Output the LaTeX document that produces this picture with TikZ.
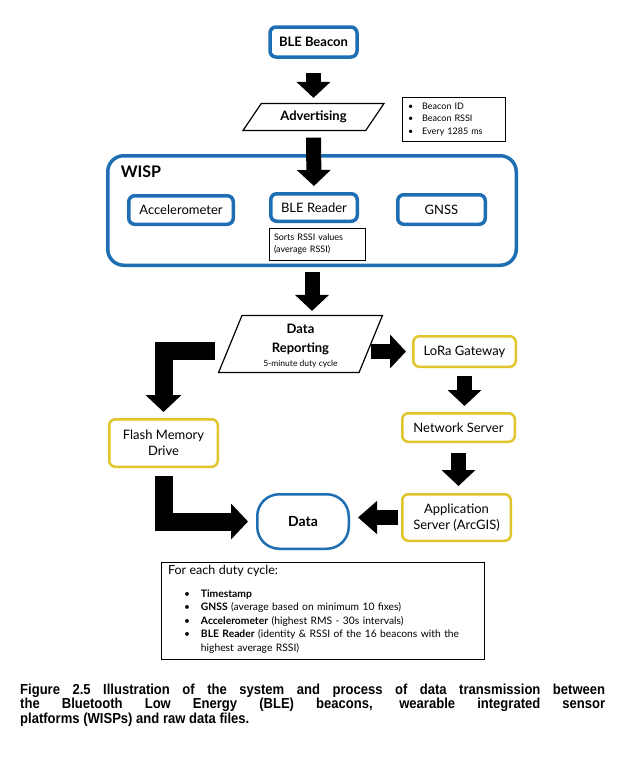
\documentclass[tikz,border=0pt]{standalone}
\usepackage{fontspec}
\setmainfont{Lato}
\newfontfamily\capfont[FakeStretch=0.9]{Liberation Sans}
\usepackage{tikz}
\usetikzlibrary{arrows.meta}
\usetikzlibrary{shapes.geometric}

\definecolor{bleblue}{RGB}{30,110,180}
\definecolor{gwyellow}{RGB}{224,198,44}
\newcommand{\boxfont}{\fontsize{13pt}{16pt}\selectfont}
\newcommand{\notefont}{\fontsize{9pt}{12.5pt}\selectfont}
\tikzset{
  bluebox/.style={draw=bleblue, line width=3.5pt, rounded corners=6pt, inner sep=2pt, align=center, font=\boxfont},
  yellowbox/.style={draw=gwyellow, line width=2.5pt, rounded corners=6pt, inner sep=2pt, align=center, font=\boxfont},
  notebox/.style={draw, line width=0.8pt, inner xsep=6pt, inner ysep=2pt, align=left, font=\notefont},
  slanted/.style={draw, line width=1.2pt, trapezium, trapezium stretches=true, inner sep=0pt, align=center},
  blockarrow/.style={line width=15pt, -{Triangle[width=33pt,length=16pt]}},
  bigarrow/.style={line width=18pt, -{Triangle[width=35pt,length=17pt]}},
}

\begin{document}
\begin{tikzpicture}[x=1pt,y=-1pt]
    \fill[white] (0,0) rectangle (627,761);
    \useasboundingbox (0,0) rectangle (627,761);
    %% beacon and advertising
    \node[bluebox, minimum width=87pt, minimum height=30pt] (beacon) at (313.5,42) {\bfseries BLE Beacon};
    \node[slanted, trapezium left angle=46, trapezium right angle=134, minimum width=142pt, minimum height=27pt, font=\boxfont\bfseries] (adv) at (313.5,117) {Advertising};
    \node[notebox, text width=91pt, minimum height=44pt] (advnote) at (453.5,119)
      {\begin{tabular}{@{}l@{\hspace{9pt}}l@{}}\textbullet & Beacon ID\\ \textbullet & Beacon RSSI\\ \textbullet & Every 1285 ms\end{tabular}};
    %% WISP
    \node[bluebox, rounded corners=16pt, minimum width=408.5pt, minimum height=109.5pt] (wisp) at (312,210.5) {};
    \node[font=\fontsize{16pt}{18pt}\selectfont\bfseries] (wisplabel) at (141,172) {WISP};
    \node[bluebox, minimum width=104.5pt, minimum height=28.5pt] (accel) at (181,210) {Accelerometer};
    \node[bluebox, minimum width=86.5pt, minimum height=27.5pt] (reader) at (314,207.5) {BLE Reader};
    \node[bluebox, minimum width=87.5pt, minimum height=29.5pt] (gnss) at (441.5,209.5) {GNSS};
    \node[notebox, inner xsep=5pt, text width=86pt, minimum height=32pt] (sorts) at (317,244) {Sorts RSSI values\\(average RSSI)};
    %% reporting
    \node[slanted, trapezium left angle=60, trapezium right angle=120, minimum width=164pt, minimum height=57pt] (report) at (300.5,344) {\phantom{Data}};
    \node[align=center, inner sep=0pt, font=\fontsize{13pt}{19pt}\selectfont\bfseries] (reporttext) at (300.5,346.5)
      {Data\\Reporting\\[-5pt]{\fontsize{8.5pt}{10pt}\selectfont\mdseries 5-minute duty cycle}};
    \node[yellowbox, minimum width=102.5pt, minimum height=30.5pt] (lora) at (464.5,351.5) {LoRa Gateway};
    \node[yellowbox, minimum width=112.5pt, minimum height=28.5pt] (netserver) at (458.5,427.5) {Network Server};
    \node[yellowbox, minimum width=108.5pt, minimum height=46.5pt] (appserver) at (456.5,517.5) {Application\\Server (ArcGIS)};
    \node[yellowbox, minimum width=108.5pt, minimum height=47.5pt] (flash) at (163.5,443) {Flash Memory\\Drive};
    \node[draw=bleblue, line width=2.5pt, rounded corners=22pt, minimum width=91.5pt, minimum height=54.5pt, font=\fontsize{14pt}{16pt}\selectfont\bfseries] (data) at (303,521.5) {Data};
    %% duty cycle note
    \node[notebox, inner xsep=7pt, text width=309pt, minimum height=97pt, font=\fontsize{10.3pt}{13.5pt}\selectfont] (dutynote) at (322.5,610.5)
      {{\fontsize{12.5pt}{13.5pt}\selectfont For each duty cycle:}\\[10pt]
       \hspace*{16pt}\begin{tabular}{@{}l@{\hspace{11pt}}l@{}}
         \textbullet & \textbf{Timestamp}\\
         \textbullet & \textbf{GNSS} (average based on minimum 10 fixes)\\
         \textbullet & \textbf{Accelerometer} (highest RMS - 30s intervals)\\
         \textbullet & \textbf{BLE Reader} (identity \& RSSI of the 16 beacons with the\\
                     & highest average RSSI)
       \end{tabular}};
    %% arrows
    \draw[blockarrow, shorten <=14pt, shorten >=5pt] (beacon) -- (adv);
    \draw[blockarrow, shorten <=6.5pt, shorten >=6pt] (adv.south) -- (reader.north);
    \draw[blockarrow, shorten <=5pt, shorten >=4pt] (wisp.south) -- (wisp.south |- report.north);
    \draw[blockarrow, shorten >=6pt] (report.east |- lora.west) -- (lora.west);
    \draw[blockarrow, shorten <=8pt, shorten >=6pt] (lora.south) -- (lora.south |- netserver.north);
    \draw[blockarrow, shorten <=10pt, shorten >=7pt] (netserver.south) -- (netserver.south |- appserver.north);
    \draw[blockarrow, -{Triangle[width=32pt,length=19pt]}, shorten <=3pt, shorten >=8pt] (appserver.west) -- (appserver.west -| data.east);
    \draw[bigarrow, shorten >=6pt] ([xshift=-15pt,yshift=-7pt]report.west) -| (flash.north);
    \draw[bigarrow, shorten <=8pt, shorten >=8pt] (flash.south) |- (data.west);
    %% caption
    \node[anchor=north west, text width=585pt, inner sep=0pt, align=justify, font=\capfont\bfseries\fontsize{14.5pt}{13.5pt}\selectfont] (caption) at (20,683.5)
      {\lineskiplimit=-10pt
       Figure 2.5 Illustration of the system and process of data transmission between\linebreak
       the Bluetooth Low Energy (BLE) beacons, wearable integrated sensor\linebreak
       platforms (WISPs) and raw data files.};
\end{tikzpicture}
\end{document}
